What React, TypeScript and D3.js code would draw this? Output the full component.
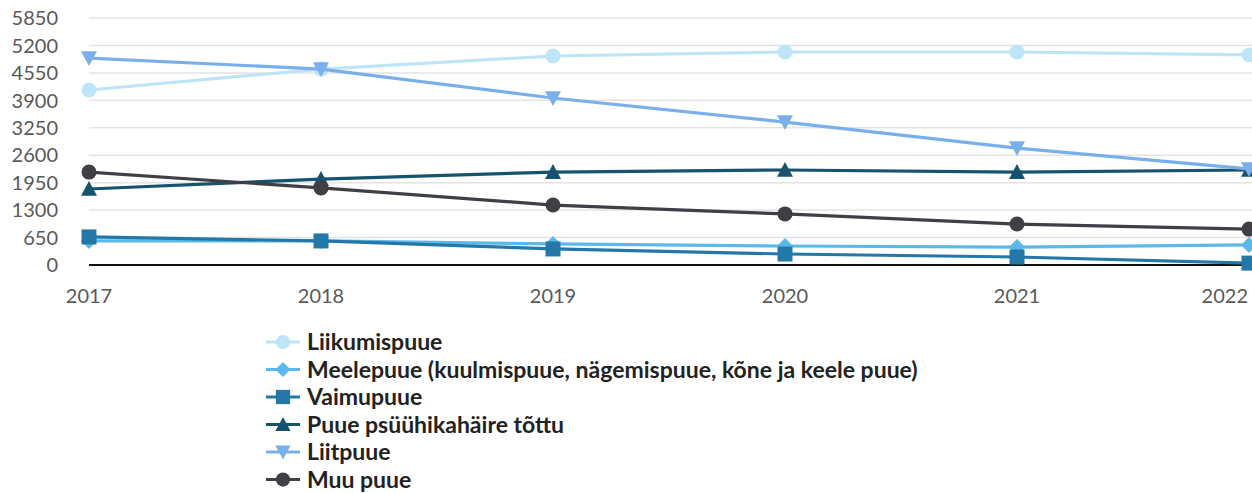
import React from "react";
import * as d3 from "d3";

const years = ["2017", "2018", "2019", "2020", "2021", "2022"];
const yTicks = [0, 650, 1300, 1950, 2600, 3250, 3900, 4550, 5200, 5850];

const liikumispuue = [4145, 4640, 4950, 5045, 5045, 4975];
const meelepuue = [570, 570, 500, 450, 425, 475];
const vaimupuue = [665, 570, 380, 260, 190, 45];
const psyyhika = [1800, 2035, 2200, 2250, 2200, 2250];
const liitpuue = [4900, 4640, 3955, 3385, 2770, 2275];
const muuPuue = [2200, 1825, 1420, 1210, 970, 850];

const seriesNames = [
  "Liikumispuue",
  "Meelepuue (kuulmispuue, nägemispuue, kõne ja keele puue)",
  "Vaimupuue",
  "Puue psüühikahäire tõttu",
  "Liitpuue",
  "Muu puue",
];
const seriesColors = ["#bee5f7", "#5bb9ea", "#2478a8", "#15536f", "#79b0ea", "#403f45"];
const seriesShapes = ["circle", "diamond", "square", "triangle", "triangleDown", "circle"];
const seriesValues = [liikumispuue, meelepuue, vaimupuue, psyyhika, liitpuue, muuPuue];

function Marker({ shape, x, y, color, s = 1 }: { shape: string; x: number; y: number; color: string; s?: number }) {
  if (shape === "circle") return <circle cx={x} cy={y} r={7.5 * s} fill={color} />;
  if (shape === "square") return <rect x={x - 7.5 * s} y={y - 7.5 * s} width={15 * s} height={15 * s} fill={color} />;
  if (shape === "diamond") {
    const r = 8 * s;
    return <path d={`M${x},${y - r}L${x + r},${y}L${x},${y + r}L${x - r},${y}Z`} fill={color} />;
  }
  if (shape === "triangle") {
    const r = 8 * s;
    return <path d={`M${x},${y - r}L${x + r},${y + r * 0.85}L${x - r},${y + r * 0.85}Z`} fill={color} />;
  }
  const r = 8 * s;
  return <path d={`M${x},${y + r}L${x + r},${y - r * 0.85}L${x - r},${y - r * 0.85}Z`} fill={color} />;
}

export default function App() {
  const W = 1252, H = 493;
  const x = d3.scalePoint<string>().domain(years).range([89, 1249]);
  const y = d3.scaleLinear().domain([0, 5850]).range([265, 18]);
  const line = d3.line<number>().x((_, i) => x(years[i])!).y((d) => y(d));
  const legendY0 = 342, legendStep = 27.5;
  return (
    <svg width={W} height={H} style={{ position: "absolute", left: 0, top: 0 }}>
      <g>
        {yTicks.map((t) => (
          <g key={t}>
            {t > 0 && <line x1={89} x2={W} y1={y(t)} y2={y(t)} stroke="#e3e3e3" strokeWidth={1.5} />}
            <text x={58} y={y(t)} dy="0.36em" textAnchor="end" fontFamily="Lato" fontSize={20} fill="#595959">{t}</text>
          </g>
        ))}
        <line x1={89} x2={W} y1={y(0)} y2={y(0)} stroke="#111" strokeWidth={2} />
        {years.map((yr, i) => {
          const last = i === years.length - 1;
          return (
            <text key={yr} x={last ? 1248 : x(yr)} y={303} textAnchor={last ? "end" : "middle"} fontFamily="Lato" fontSize={20} fill="#595959">{yr}</text>
          );
        })}
      </g>
      {seriesValues.map((vals, si) => (
        <g key={si}>
          <path d={line(vals)!} fill="none" stroke={seriesColors[si]} strokeWidth={3.2} />
          {vals.map((v, i) => (
            <Marker key={i} shape={seriesShapes[si]} x={x(years[i])!} y={y(v)} color={seriesColors[si]} />
          ))}
        </g>
      ))}
      {seriesNames.map((n, si) => {
        const ly = legendY0 + si * legendStep;
        return (
          <g key={n}>
            <line x1={266} x2={300} y1={ly} y2={ly} stroke={seriesColors[si]} strokeWidth={3.2} />
            <Marker shape={seriesShapes[si]} x={283} y={ly} color={seriesColors[si]} s={0.95} />
            <text x={307} y={ly} dy="0.36em" fontFamily="Lato" fontWeight={700} fontSize={23} fill="#222">{n}</text>
          </g>
        );
      })}
    </svg>
  );
}
